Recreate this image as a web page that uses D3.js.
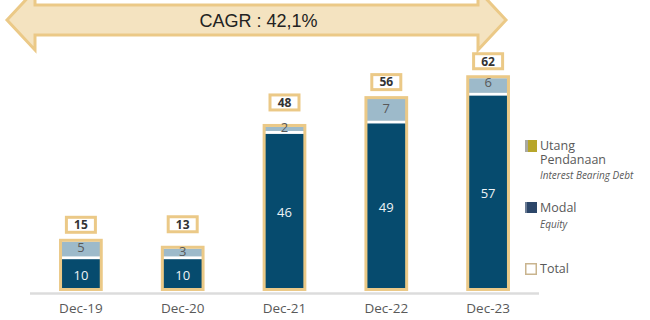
<!DOCTYPE html>
<html>
<head>
<meta charset="utf-8">
<script src="https://cdn.jsdelivr.net/npm/d3@7"></script>
<style>
  html, body { margin: 0; padding: 0; background: #fff; }
  svg { display: block; }
</style>
</head>
<body>
<svg id="chart" width="650" height="320"></svg>
<script>
// Capital structure per year (IDR, trillions)
const periods = ["Dec-19", "Dec-20", "Dec-21", "Dec-22", "Dec-23"];
const equity  = [10, 10, 46, 49, 57];   // Modal
const debt    = [5, 3, 2, 7, 6];        // Utang Pendanaan
const totals  = [15, 13, 48, 56, 62];   // Total
const cagrLabel = "CAGR : 42,1%";

const legendItems = [
  { key: "debt",   title: ["Utang", "Pendanaan"], sub: "Interest Bearing Debt" },
  { key: "equity", title: ["Modal"],              sub: "Equity" },
  { key: "total",  title: ["Total"],              sub: null }
];

const C = {
  navy: "#064b6e",
  debt: "#9dbaca",
  tan: "#ebc987",
  arrowFill: "#f4e3c0",
  axis: "#dcdcdc",
  text: "#595959",
  dark: "#333",
  olive: "#b7a62b",
  legendNavy: "#2c4669",
  legendTotal: "#c9b48e"
};
const FONT = "'Open Sans', 'Noto Sans', sans-serif";

const svg = d3.select("#chart");
const baseY = 291;
const stroke = 3;

const x = d3.scaleBand()
  .domain(periods)
  .range([30, 539])
  .paddingInner(0.6)
  .paddingOuter(0.3);

const y = d3.scaleLinear()
  .domain([0, 62])
  .range([baseY, baseY - 62 * 3.48]);

const rows = periods.map((p, i) => ({ p, eq: equity[i], debt: debt[i], total: totals[i], i }));

// ---- CAGR double-headed arrow across the top ----
const ax0 = 7, ax1 = 506, ahead = 28, acy = 20, shaftH = 15, headH = 30;
const arrowPath = d3.path();
arrowPath.moveTo(ax0, acy);
arrowPath.lineTo(ax0 + ahead, acy - headH);
arrowPath.lineTo(ax0 + ahead, acy - shaftH);
arrowPath.lineTo(ax1 - ahead, acy - shaftH);
arrowPath.lineTo(ax1 - ahead, acy - headH);
arrowPath.lineTo(ax1, acy);
arrowPath.lineTo(ax1 - ahead, acy + headH);
arrowPath.lineTo(ax1 - ahead, acy + shaftH);
arrowPath.lineTo(ax0 + ahead, acy + shaftH);
arrowPath.lineTo(ax0 + ahead, acy + headH);
arrowPath.closePath();
svg.append("path")
  .attr("d", arrowPath.toString())
  .attr("fill", C.arrowFill)
  .attr("stroke", C.tan)
  .attr("stroke-width", 3)
  .attr("stroke-linejoin", "miter");
svg.append("text")
  .attr("x", (ax0 + ax1) / 2 + 2)
  .attr("y", acy + 1)
  .attr("dy", "0.36em")
  .attr("text-anchor", "middle")
  .attr("font-family", "'Liberation Sans', Arial, sans-serif")
  .attr("font-size", 18)
  .attr("fill", "#222")
  .text(cagrLabel);

// ---- baseline ----
svg.append("line")
  .attr("x1", 30).attr("x2", 539)
  .attr("y1", baseY + 2.5).attr("y2", baseY + 2.5)
  .attr("stroke", C.axis)
  .attr("stroke-width", 2.5);

// ---- x axis labels ----
const xAxis = d3.axisBottom(x).tickSize(0).tickPadding(0);
const gx = svg.append("g")
  .attr("transform", `translate(0,${baseY + 12})`)
  .call(xAxis);
gx.select(".domain").remove();
gx.selectAll("text")
  .attr("font-family", FONT)
  .attr("font-size", 13.5)
  .attr("fill", C.text)
  .attr("dy", "0.71em");

// ---- bars ----
const defs = svg.append("defs");
const bars = svg.append("g").selectAll("g").data(rows).join("g");

// clip each stack to the interior of its total frame
bars.each(function (d) {
  defs.append("clipPath")
    .attr("id", "clip-" + d.i)
    .append("rect")
    .attr("x", x(d.p))
    .attr("y", y(d.total) + stroke)
    .attr("width", x.bandwidth())
    .attr("height", baseY - y(d.total) - stroke);
});

const stacks = bars.append("g").attr("clip-path", d => `url(#clip-${d.i})`);

stacks.append("rect")
  .attr("x", d => x(d.p))
  .attr("width", x.bandwidth())
  .attr("y", d => y(d.eq + d.debt))
  .attr("height", d => y(d.eq) - y(d.eq + d.debt))
  .attr("fill", C.debt);

stacks.append("rect")
  .attr("x", d => x(d.p))
  .attr("width", x.bandwidth())
  .attr("y", d => y(d.eq))
  .attr("height", d => baseY - y(d.eq))
  .attr("fill", C.navy);

// white separator between equity and debt
stacks.append("rect")
  .attr("x", d => x(d.p))
  .attr("width", x.bandwidth())
  .attr("y", d => y(d.eq))
  .attr("height", 3)
  .attr("fill", "#fff");

// total frame
bars.append("rect")
  .attr("x", d => x(d.p))
  .attr("width", x.bandwidth())
  .attr("y", d => y(d.total) + stroke / 2)
  .attr("height", d => baseY - y(d.total) - stroke)
  .attr("fill", "none")
  .attr("stroke", C.tan)
  .attr("stroke-width", stroke);

// segment values
bars.append("text")
  .attr("x", d => x(d.p) + x.bandwidth() / 2)
  .attr("y", d => (y(d.eq) + 3 + baseY) / 2)
  .attr("dy", "0.36em")
  .attr("text-anchor", "middle")
  .attr("font-family", FONT)
  .attr("font-size", 13)
  .attr("fill", "#eef3f6")
  .text(d => d.eq);

bars.append("text")
  .attr("x", d => x(d.p) + x.bandwidth() / 2)
  .attr("y", d => (y(d.eq + d.debt) + y(d.eq)) / 2)
  .attr("dy", "0.36em")
  .attr("text-anchor", "middle")
  .attr("font-family", FONT)
  .attr("font-size", 13)
  .attr("fill", C.text)
  .text(d => d.debt);

// total value tags above each bar; lifted further when the debt label overflows its segment
const tagW = 29, tagH = 15;
const tags = bars.append("g")
  .attr("transform", d => {
    const segPx = y(d.eq) - y(d.eq + d.debt);
    const lift = 14 + (segPx < 15 ? 7.5 : 0);
    return `translate(${x(d.p) + x.bandwidth() / 2},${y(d.total) - lift})`;
  });
tags.append("rect")
  .attr("x", -tagW / 2).attr("y", -tagH / 2)
  .attr("width", tagW).attr("height", tagH)
  .attr("fill", "#fff")
  .attr("stroke", C.tan)
  .attr("stroke-width", 3);
tags.append("text")
  .attr("text-anchor", "middle")
  .attr("dy", "0.36em")
  .attr("font-family", FONT)
  .attr("font-size", 12)
  .attr("font-weight", 700)
  .attr("fill", C.dark)
  .text(d => d.total);

// ---- legend ----
const legend = svg.append("g").attr("transform", "translate(525,0)");
const legendTop = { debt: 140, equity: 202, total: 263 };
const lineStep = 13.5;
legendItems.forEach(item => {
  const g = legend.append("g").attr("transform", `translate(0,${legendTop[item.key]})`);
  if (item.key === "debt") {
    g.append("rect").attr("width", 12).attr("height", 12).attr("fill", C.olive);
    g.append("rect").attr("width", 3).attr("height", 12).attr("fill", "#a9a9a2");
  } else if (item.key === "equity") {
    g.append("rect").attr("width", 12).attr("height", 11).attr("fill", C.legendNavy);
    g.append("rect").attr("width", 2).attr("height", 11).attr("fill", "#6b7c94");
  } else {
    g.append("rect").attr("x", 0.75).attr("y", 0.75).attr("width", 10.5).attr("height", 10.5)
      .attr("fill", "#fff").attr("stroke", C.legendTotal).attr("stroke-width", 1.5);
  }
  item.title.forEach((t, j) => {
    g.append("text")
      .attr("x", 15)
      .attr("y", 10 + j * lineStep)
      .attr("font-family", FONT)
      .attr("font-size", 12.5)
      .attr("fill", C.text)
      .text(t);
  });
  if (item.sub) {
    g.append("text")
      .attr("x", 15)
      .attr("y", 10 + (item.title.length - 1) * lineStep + 15.5)
      .attr("font-family", FONT)
      .attr("font-size", 10)
      .attr("font-style", "italic")
      .attr("fill", C.text)
      .text(item.sub);
  }
});
</script>
</body>
</html>
